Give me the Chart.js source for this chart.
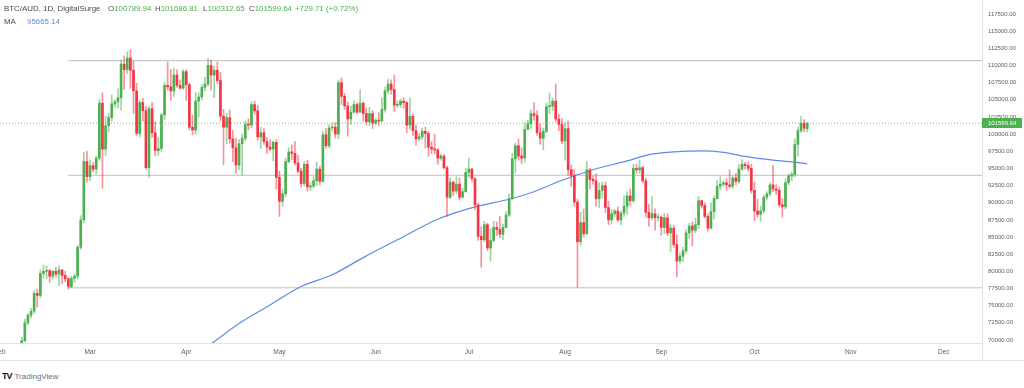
<!DOCTYPE html>
<html>
<head>
<meta charset="utf-8">
<script src="https://cdn.jsdelivr.net/npm/chart.js@4.4.1/dist/chart.umd.min.js"></script>
<style>
  html, body { margin: 0; padding: 0; background: #fff; }
  body { width: 1024px; height: 388px; position: relative; overflow: hidden; font-family: "Liberation Sans", Arial, sans-serif; }
  #wrap { position: absolute; left: 0; top: 0; width: 1024px; height: 360px; border-bottom: 1px solid #e0e3eb; }
  .lg { position: absolute; font-size: 7.9px; color: #4a4a4a; white-space: nowrap; line-height: 10px; }
  .up { color: #4caf50; }
  .ma { color: #5b8ce8; }
  #tv { position: absolute; left: 2px; top: 371px; font-size: 8px; color: #6a6d78; white-space: nowrap; }
  #tv b { color: #131722; font-size: 9px; letter-spacing: -1px; margin-right: 3px; }
</style>
</head>
<body>
<div id="wrap"><canvas id="myChart" width="1024" height="360"></canvas></div>

<div class="lg" style="left:4px;top:4px">BTC/AUD, 1D, DigitalSurge</div>
<div class="lg" style="left:108px;top:4px">O<span class="up">100789.94</span></div>
<div class="lg" style="left:155px;top:4px">H<span class="up">101686.81</span></div>
<div class="lg" style="left:203px;top:4px">L<span class="up">100312.65</span></div>
<div class="lg" style="left:249px;top:4px">C<span class="up">101599.64</span></div>
<div class="lg up" style="left:295px;top:4px">+729.71 (+0.72%)</div>
<div class="lg" style="left:4px;top:17px">MA</div>
<div class="lg ma" style="left:27px;top:17px">95665.14</div>
<div id="tv"><b>TV</b>TradingView</div>

<script>
// setup
const monthDays = [31, 60, 91, 121, 152, 182, 213, 244, 274, 305, 335];
const monthLabels = ['Feb', 'Mar', 'Apr', 'May', 'Jun', 'Jul', 'Aug', 'Sep', 'Oct', 'Nov', 'Dec'];
const yTicks = [70000, 72500, 75000, 77500, 80000, 82500, 85000, 87500, 90000, 92500,
  95000, 97500, 100000, 102500, 105000, 107500, 110000, 112500, 115000, 117500];
const firstDay = 38; // 8 Feb, day of year

// daily candles in AUD thousands: [open, high, low, close]
const ohlc = [
  // Feb
  [68.0,70.4,67.8,69.9],[69.9,73.0,69.7,72.5],[72.5,73.9,72.2,73.6],[73.6,74.6,73.2,74.2],[74.2,77.2,73.9,76.8],
  [76.8,77.4,74.8,76.5],[76.5,80.2,76.2,79.7],[79.7,80.9,79.0,80.0],[80.0,80.8,78.9,80.1],[80.1,80.3,78.4,79.3],
  [79.3,80.2,78.9,80.0],[80.0,80.6,79.2,79.6],[79.6,80.8,77.9,80.2],[80.2,80.3,78.2,79.4],[79.4,80.0,78.5,78.9],
  [78.9,79.1,77.4,77.8],[77.8,79.3,77.6,79.0],[79.0,79.6,78.4,79.3],[79.3,83.8,78.9,83.5],[83.5,88.1,83.2,87.5],
  [87.5,97.3,87.1,96.0],[96.0,97.5,93.0,93.8],
  // Mar
  [93.8,96.2,93.2,95.4],[95.4,95.9,94.5,94.9],[94.9,96.8,94.2,96.5],[96.5,105.0,96.2,104.5],[104.5,106.0,92.1,97.8],
  [97.8,102.6,96.9,101.2],[101.2,103.0,100.3,102.4],[102.4,105.7,101.9,104.4],[104.4,105.0,103.9,104.7],[104.7,106.6,103.8,105.3],
  [105.3,110.8,103.5,110.2],[110.2,111.4,106.5,109.4],[109.4,112.0,108.8,111.1],[111.1,112.3,106.7,109.3],[109.3,110.6,103.0,106.3],
  [106.3,107.4,99.8,100.1],[100.1,104.9,99.6,104.6],[104.6,105.2,101.9,103.4],[103.4,104.0,94.9,95.1],[95.1,104.0,93.7,103.7],
  [103.7,104.6,99.5,100.2],[100.2,101.8,96.8,97.6],[97.6,99.5,96.9,97.9],[97.9,103.0,97.4,102.8],[102.8,107.5,102.1,107.1],
  [107.1,110.5,106.4,106.9],[106.9,109.4,104.9,106.3],[106.3,109.6,105.5,108.6],[108.6,109.4,106.8,107.1],[107.1,107.9,106.6,106.7],
  [106.7,109.4,106.5,109.1],
  // Apr
  [109.1,109.4,104.9,107.2],[107.2,107.5,100.6,101.0],[101.0,102.8,99.9,100.6],[100.6,106.1,100.0,104.8],[104.8,106.0,102.5,105.4],
  [105.4,107.2,105.0,106.8],[106.8,108.3,106.3,107.3],[107.3,111.0,107.0,110.0],[110.0,110.8,106.4,108.6],[108.6,109.9,105.3,109.3],
  [109.3,110.5,107.4,107.8],[107.8,109.0,102.0,102.6],[102.6,103.6,95.5,101.0],[101.0,103.0,98.6,102.4],[102.4,103.5,98.7,99.3],
  [99.3,100.5,96.0,98.0],[98.0,99.4,94.3,95.5],[95.5,99.2,94.8,98.6],[98.6,100.0,94.0,99.4],[99.4,101.9,99.0,101.4],
  [101.4,102.2,100.6,101.3],[101.3,104.7,100.9,104.3],[104.3,104.8,102.9,103.4],[103.4,104.2,99.1,99.6],[99.6,101.0,97.9,100.2],
  [100.2,100.8,98.5,98.9],[98.9,99.5,97.2,98.1],[98.1,99.2,97.6,97.8],[97.8,99.0,96.1,98.8],[98.8,99.2,92.0,93.7],
  // May
  [93.7,94.6,88.0,90.2],[90.2,92.0,89.5,91.3],[91.3,96.5,90.9,96.0],[96.0,98.0,95.8,97.4],[97.4,98.4,96.3,97.2],
  [97.2,98.9,95.5,95.8],[95.8,96.9,94.3,94.6],[94.6,95.0,92.3,92.8],[92.8,96.0,92.5,95.6],[95.6,96.2,91.7,92.3],
  [92.3,93.0,91.8,92.4],[92.4,93.8,92.2,93.2],[93.2,95.9,92.5,94.9],[94.9,95.3,92.6,93.1],[93.1,100.4,93.0,99.9],
  [99.9,100.8,97.9,98.3],[98.3,101.4,98.0,100.9],[100.9,101.6,100.4,101.0],[101.0,101.7,99.4,100.0],[100.0,107.9,99.3,107.5],
  [107.5,108.2,104.3,105.5],[105.5,105.9,103.6,104.1],[104.1,104.7,99.7,102.2],[102.2,104.1,101.4,103.2],[103.2,104.9,103.1,104.3],
  [104.3,104.6,102.9,103.2],[103.2,106.5,103.2,104.5],[104.5,104.7,101.9,103.0],[103.0,103.8,101.3,101.8],[101.8,103.9,101.2,103.0],
  [103.0,103.4,100.8,101.6],
  // Jun
  [101.6,102.3,101.3,102.0],[102.0,103.1,101.2,101.9],[101.9,105.3,101.9,103.6],[103.6,106.9,103.2,106.3],[106.3,108.0,105.9,107.3],
  [107.3,107.9,105.8,106.5],[106.5,108.6,103.3,104.2],[104.2,104.9,103.9,104.3],[104.3,105.1,103.9,104.8],[104.8,105.3,103.8,104.6],
  [104.6,104.7,100.2,101.3],[101.3,105.3,100.7,102.6],[102.6,102.9,99.8,100.5],[100.5,101.3,98.4,99.3],[99.3,100.1,99.0,99.6],
  [99.6,100.8,99.2,100.4],[100.4,101.0,98.0,100.1],[100.1,100.4,96.8,98.1],[98.1,98.9,97.2,97.8],[97.8,100.0,97.1,97.7],
  [97.7,97.9,95.6,96.5],[96.5,97.1,96.2,96.8],[96.8,97.0,94.9,95.1],[95.1,95.3,88.0,90.8],[90.8,93.6,90.6,93.0],
  [93.0,93.1,91.0,91.7],[91.7,93.8,91.3,92.7],[92.7,93.6,90.4,90.8],[90.8,92.1,90.7,91.6],[91.6,95.0,91.5,94.4],
  // Jul
  [94.4,96.5,93.7,94.9],[94.9,95.0,93.1,93.5],[93.5,93.6,89.0,89.7],[89.7,89.9,84.5,85.1],[85.1,86.5,80.6,84.6],
  [84.6,87.3,84.3,86.8],[86.8,87.0,83.0,83.4],[83.4,86.2,81.5,84.5],[84.5,87.3,84.3,86.4],[86.4,87.2,85.2,86.1],
  [86.1,88.0,84.9,85.4],[85.4,86.9,84.6,86.4],[86.4,88.7,86.3,88.2],[88.2,91.3,88.0,90.6],[90.6,97.2,90.4,96.4],
  [96.4,98.7,94.4,98.3],[98.3,99.3,96.2,96.8],[96.8,98.0,95.7,96.5],[96.5,101.6,95.9,100.7],[100.7,102.0,100.6,101.5],
  [101.5,103.5,100.8,103.0],[103.0,104.6,102.0,102.7],[102.7,103.4,99.8,100.2],[100.2,101.5,98.5,99.4],[99.4,100.9,97.7,100.4],
  [100.4,104.5,100.2,104.0],[104.0,106.0,103.0,104.1],[104.1,105.2,103.4,104.8],[104.8,107.3,101.8,102.2],[102.2,102.9,100.5,101.4],
  [101.4,102.3,98.6,99.0],
  // Aug
  [99.0,101.6,96.2,100.8],[100.8,101.9,94.0,94.8],[94.8,95.5,92.4,94.0],[94.0,94.9,89.5,90.1],[90.1,90.5,77.7,84.3],
  [84.3,88.6,83.8,87.1],[87.1,89.1,85.0,85.5],[85.5,96.0,85.3,94.8],[94.8,95.0,92.0,93.4],[93.4,93.9,92.7,93.2],
  [93.2,94.2,89.5,90.6],[90.6,92.9,89.3,91.8],[91.8,93.0,90.7,92.5],[92.5,93.0,88.6,89.3],[89.3,90.2,86.8,87.5],
  [87.5,89.0,86.9,88.4],[88.4,89.0,88.0,88.8],[88.8,89.4,87.2,87.5],[87.5,88.8,86.8,88.5],[88.5,91.0,88.0,89.5],
  [89.5,91.6,88.3,91.0],[91.0,92.0,89.6,90.3],[90.3,95.6,90.0,95.0],[95.0,95.6,94.3,94.8],[94.8,96.2,94.3,95.1],
  [95.1,95.3,92.9,93.2],[93.2,93.6,87.9,88.6],[88.6,89.8,86.6,87.8],[87.8,90.9,87.5,88.4],[88.4,89.1,86.0,87.8],
  [87.8,88.4,87.3,87.9],
  // Sep
  [87.9,88.1,85.3,86.4],[86.4,88.4,85.5,87.8],[87.8,88.4,85.2,85.6],[85.6,86.8,82.9,86.3],[86.3,86.7,83.5,83.9],
  [83.9,85.3,79.2,81.5],[81.5,82.7,81.2,82.2],[82.2,83.5,81.4,83.0],[83.0,86.1,82.6,85.6],[85.6,87.0,84.8,86.6],
  [86.6,87.2,83.7,86.0],[86.0,87.7,85.6,86.8],[86.8,90.9,86.2,90.3],[90.3,90.4,89.2,89.6],[89.6,90.0,87.8,88.0],
  [88.0,88.4,85.9,86.3],[86.3,90.0,86.1,88.7],[88.7,91.0,87.6,90.6],[90.6,93.3,90.5,92.4],[92.4,93.8,91.9,92.7],
  [92.7,93.2,92.4,92.9],[92.9,93.5,91.8,92.6],[92.6,94.8,92.1,92.4],[92.4,93.9,92.1,93.6],[93.6,94.3,92.6,93.1],
  [93.1,95.6,92.8,94.9],[94.9,96.3,94.7,95.6],[95.6,95.9,94.9,95.4],[95.4,95.9,94.6,95.0],[95.0,95.6,91.4,91.8],
  // Oct
  [91.8,93.0,87.4,88.8],[88.8,90.5,87.9,88.3],[88.3,89.5,87.3,88.8],[88.8,91.1,88.5,90.8],[90.8,91.6,90.4,91.3],
  [91.3,92.9,91.0,92.6],[92.6,95.4,91.6,92.0],[92.0,92.6,91.2,91.8],[91.8,92.3,89.4,89.7],[89.7,90.6,87.9,89.4],
  [89.4,93.5,89.1,92.9],[92.9,94.2,92.6,93.9],[93.9,94.5,93.2,94.1],[94.1,99.3,93.8,98.5],[98.5,101.0,96.8,100.5],
  [100.5,102.6,100.2,101.6],[101.6,102.1,100.3,100.87],[100.78994,101.68681,100.31265,101.59964]
];

// moving average (AUD thousands)
const maDays = [99, 108, 118, 128, 138, 148, 159, 172, 184, 195, 203, 211, 222, 234, 240, 248, 257, 264, 271, 280, 288, 291];
const maValues = [69.4, 72.4, 75.1, 77.8, 79.5, 82.0, 84.6, 87.6, 89.4, 90.5, 91.6, 93.1, 94.8, 96.2, 97.0, 97.4, 97.55, 97.35, 96.75, 96.2, 95.85, 95.665];

// drawn horizontal levels (AUD thousands) and where they start
const levels = [110.7, 94.0, 77.6];
const levelStart = 53;
const lastPrice = 101599.64;

const upColor = 'rgba(76, 175, 80, 1)';
const downColor = 'rgba(242, 54, 69, 1)';
const upWick = 'rgba(76, 175, 80, 0.55)';
const downWick = 'rgba(242, 54, 69, 0.55)';

const isUp = ohlc.map(c => c[3] >= c[0]);
const bodies = ohlc.map((c, i) => ({ x: firstDay + i, y: [c[0] * 1000, c[3] * 1000] }));
const wicks = ohlc.map((c, i) => ({ x: firstDay + i, y: [c[2] * 1000, c[1] * 1000] }));
const maPoints = maDays.map((d, i) => ({ x: d, y: maValues[i] * 1000 }));

const xMin = 31, xMax = 347.3;

const levelSets = levels.map(v => ({
  type: 'line',
  data: [{ x: levelStart, y: v * 1000 }, { x: xMax, y: v * 1000 }],
  borderColor: 'rgba(190, 190, 190, 1)',
  borderWidth: 1,
  pointRadius: 0
}));

// price tag on the axis
const priceTag = {
  id: 'priceTag',
  afterDraw(chart) {
    const { ctx, chartArea, scales: { y } } = chart;
    const py = Math.round(y.getPixelForValue(lastPrice));
    ctx.save();
    ctx.fillStyle = '#4caf50';
    ctx.fillRect(chartArea.right, py - 5, 40, 10);
    ctx.fillStyle = '#ffffff';
    ctx.font = '6px "Liberation Sans"';
    ctx.textBaseline = 'middle';
    ctx.fillText(lastPrice.toFixed(2), chartArea.right + 6, py + 0.5);
    ctx.strokeStyle = '#e0e3eb';
    ctx.beginPath();
    ctx.moveTo(chartArea.right + 0.5, chartArea.bottom);
    ctx.lineTo(chartArea.right + 0.5, chart.height);
    ctx.stroke();
    ctx.restore();
  }
};

const data = {
  datasets: [
    {
      type: 'bar',
      data: bodies,
      backgroundColor: isUp.map(u => u ? upColor : downColor),
      barThickness: 2,
      minBarLength: 1,
      grouped: false
    },
    {
      type: 'bar',
      data: wicks,
      backgroundColor: isUp.map(u => u ? upWick : downWick),
      barThickness: 1,
      grouped: false
    },
    {
      type: 'line',
      data: maPoints,
      borderColor: 'rgba(91, 140, 232, 1)',
      borderWidth: 1.2,
      pointRadius: 0,
      cubicInterpolationMode: 'monotone'
    },
    {
      type: 'line',
      data: [{ x: xMin, y: lastPrice }, { x: xMax, y: lastPrice }],
      borderColor: 'rgba(76, 175, 80, 0.8)',
      borderWidth: 1,
      borderDash: [1, 2],
      pointRadius: 0
    },
    ...levelSets
  ]
};

// config
const config = {
  type: 'bar',
  data,
  options: {
    responsive: false,
    animation: false,
    layout: { padding: 0 },
    plugins: {
      legend: { display: false },
      tooltip: { enabled: false }
    },
    scales: {
      x: {
        type: 'linear',
        min: xMin,
        max: xMax,
        offset: false,
        grid: { display: false, drawTicks: false },
        border: { display: true, color: '#e0e3eb' },
        ticks: {
          autoSkip: false,
          maxRotation: 0,
          padding: 5,
          color: '#5d606b',
          font: { family: 'Liberation Sans', size: 6.5 },
          callback: v => monthLabels[monthDays.indexOf(v)]
        },
        afterBuildTicks: s => { s.ticks = monthDays.map(v => ({ value: v })); },
        afterFit: s => { s.height = 17; s.paddingLeft = 0; s.paddingRight = 0; }
      },
      y: {
        position: 'right',
        min: 69560,
        max: 119540,
        grid: { display: false, drawTicks: false },
        border: { display: true, color: '#e0e3eb' },
        ticks: {
          padding: 6,
          color: '#5d606b',
          font: { family: 'Liberation Sans', size: 6 },
          callback: v => v.toFixed(2)
        },
        afterBuildTicks: s => { s.ticks = yTicks.map(v => ({ value: v })); },
        afterFit: s => { s.width = 42; s.paddingTop = 0; s.paddingBottom = 0; }
      }
    }
  },
  plugins: [priceTag]
};

// render init block
const myChart = new Chart(document.getElementById('myChart'), config);
</script>
</body>
</html>
